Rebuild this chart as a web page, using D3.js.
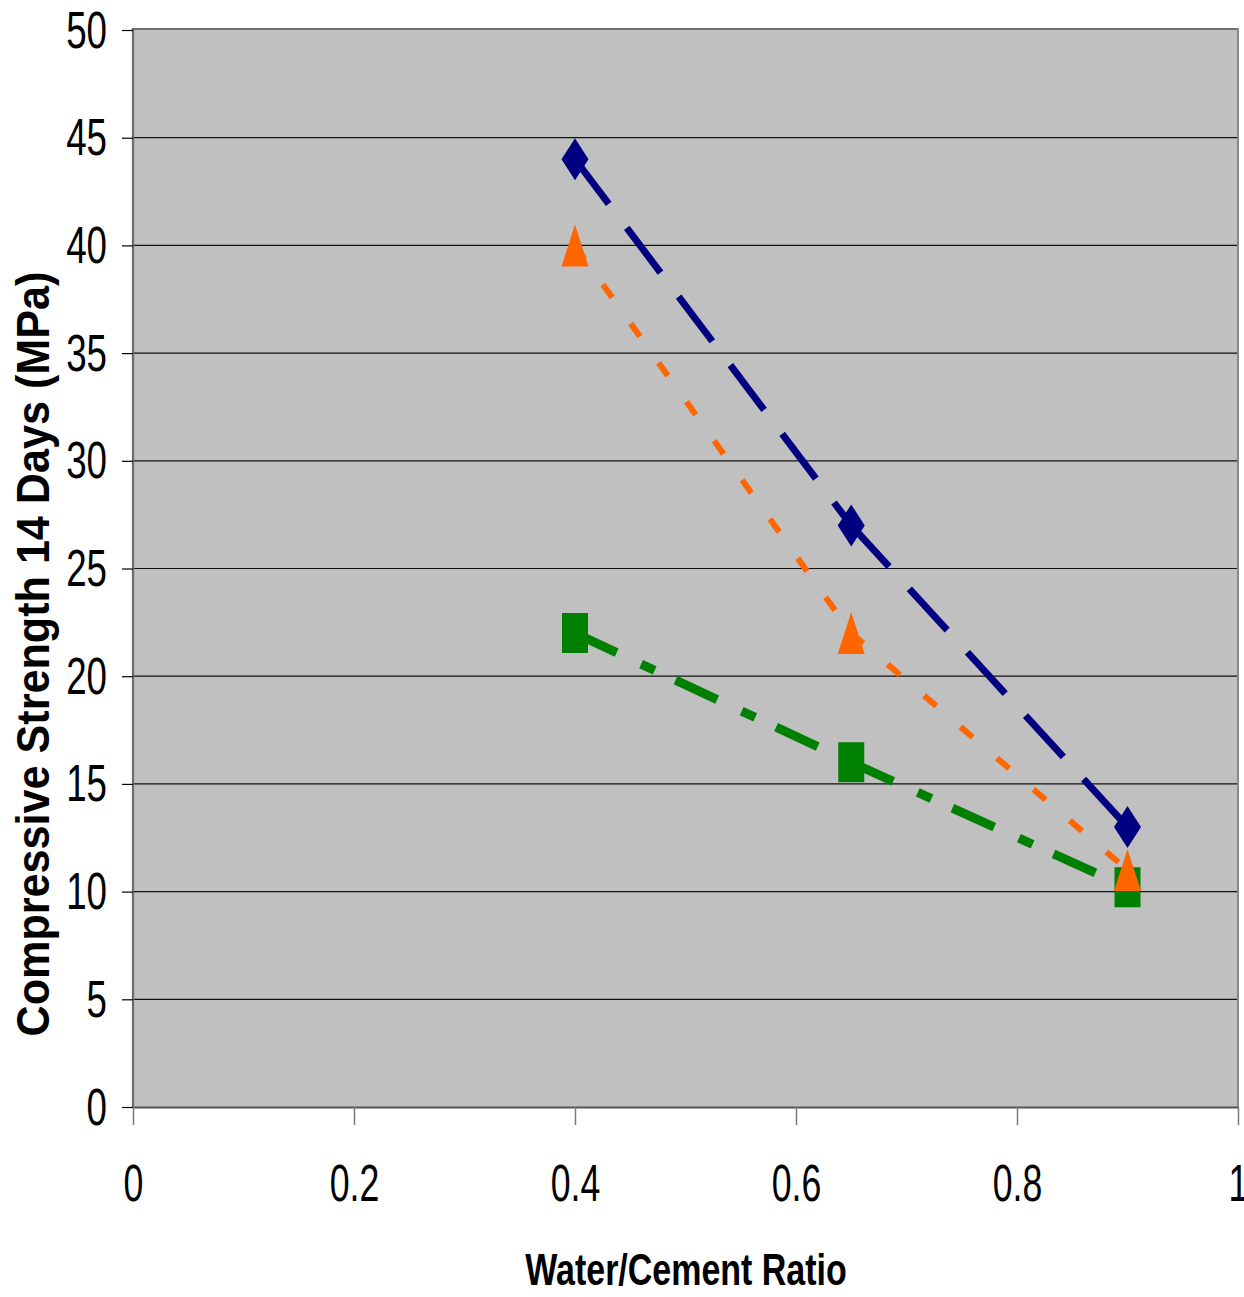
<!DOCTYPE html>
<html><head><meta charset="utf-8">
<script src="https://cdn.jsdelivr.net/npm/d3@7"></script>
<style>
html,body{margin:0;padding:0;background:#fff;}
svg{display:block;}
text{font-family:"Liberation Sans",Arial,sans-serif;}
</style></head>
<body>
<svg id="chart" width="1244" height="1297"></svg>
<script>
// ---- data ----
const wcRatio = [0.4, 0.65, 0.9];
const strengthBlue = [44, 27, 13];
const strengthGreen = [22, 16, 10.2];
const strengthOrange = [40, 22, 11];
const yTicks = [0, 5, 10, 15, 20, 25, 30, 35, 40, 45, 50];
const yTickLabels = ["0","5","10","15","20","25","30","35","40","45","50"];
const xTicks = [0, 0.2, 0.4, 0.6, 0.8, 1];
const xTickLabels = ["0","0.2","0.4","0.6","0.8","1"];
const xTitle = "Water/Cement Ratio";
const yTitle = "Compressive Strength 14 Days (MPa)";

// ---- layout ----
const L = 133, R = 1238, T = 30, B = 1107;
const svg = d3.select("#chart");
const x = d3.scaleLinear().domain([0, 1]).range([L, R]);
const y = d3.scaleLinear().domain([0, 50]).range([B, T]);

// plot background
svg.append("rect").attr("x", L).attr("y", T).attr("width", R - L).attr("height", B - T)
  .attr("fill", "#c0c0c0");

// gridlines
svg.append("g").selectAll("line").data(yTicks.filter(d => d > 0 && d < 50)).join("line")
  .attr("x1", L).attr("x2", R).attr("y1", d => y(d)).attr("y2", d => y(d))
  .attr("stroke", "#111").attr("stroke-width", 1.2);

// borders
svg.append("line").attr("x1", L).attr("x2", R).attr("y1", T - 1).attr("y2", T - 1)
  .attr("stroke", "#707070").attr("stroke-width", 2.2);
svg.append("line").attr("x1", R).attr("x2", R).attr("y1", T - 2).attr("y2", B)
  .attr("stroke", "#8a8a8a").attr("stroke-width", 2);
svg.append("line").attr("x1", L).attr("x2", L).attr("y1", T - 2).attr("y2", B)
  .attr("stroke", "#6a6a6a").attr("stroke-width", 2.2);

// y axis
const yAxis = svg.append("g").attr("transform", `translate(${L},0)`)
  .call(d3.axisLeft(y).tickValues(yTicks).tickFormat((d, i) => yTickLabels[i]).tickSize(11).tickSizeOuter(0));
yAxis.select(".domain").remove();
yAxis.selectAll("line").attr("stroke", "#000").attr("stroke-width", 1.2);
yAxis.selectAll("text")
  .attr("x", null).attr("y", null).attr("dy", null)
  .attr("text-anchor", "end")
  .attr("transform", "translate(-26,17) scale(0.72,1)")
  .attr("font-size", 51).attr("fill", "#000")
  .style("font-family", '"Liberation Sans",Arial,sans-serif');

// x axis
const xAxis = svg.append("g").attr("transform", `translate(0,${B})`)
  .call(d3.axisBottom(x).tickValues(xTicks).tickFormat((d, i) => xTickLabels[i]).tickSize(18).tickSizeOuter(0));
xAxis.select(".domain").attr("stroke", "#555").attr("stroke-width", 2.2);
xAxis.selectAll("line").attr("stroke", "#7a7a7a").attr("stroke-width", 1.5);
xAxis.selectAll("text")
  .attr("x", null).attr("y", null).attr("dy", null)
  .attr("text-anchor", "middle")
  .attr("transform", "translate(0,94) scale(0.7,1)")
  .attr("font-size", 51).attr("fill", "#000")
  .style("font-family", '"Liberation Sans",Arial,sans-serif');

// titles
svg.append("text").attr("transform", "translate(686,1285) scale(0.755,1)")
  .attr("text-anchor", "middle").attr("font-weight", "bold").attr("font-size", 45)
  .attr("fill", "#000").text(xTitle);
svg.append("text").attr("transform", "translate(49,654) rotate(-90) scale(0.918,1)")
  .attr("text-anchor", "middle").attr("font-weight", "bold").attr("font-size", 47)
  .attr("fill", "#000").text(yTitle);

// series
const series = [
  { name: "blue", values: strengthBlue, color: "#000080", width: 7, dash: "56,30", marker: "diamond" },
  { name: "green", values: strengthGreen, color: "#008000", width: 9, dash: "46,27,15,23", marker: "square" },
  { name: "orange", values: strengthOrange, color: "#ff6600", width: 6, dash: "16,32", marker: "triangle" }
];

function markerPath(type, cx, cy) {
  const p = d3.path();
  if (type === "diamond") {
    const w = 13.5, h = 21;
    p.moveTo(cx, cy - h); p.lineTo(cx + w, cy); p.lineTo(cx, cy + h); p.lineTo(cx - w, cy); p.closePath();
  } else if (type === "triangle") {
    const w = 13.5, h = 21;
    p.moveTo(cx, cy - h); p.lineTo(cx + w, cy + h); p.lineTo(cx - w, cy + h); p.closePath();
  } else {
    const w = 13, h = 20;
    p.rect(cx - w, cy - h, 2 * w, 2 * h);
  }
  return p.toString();
}

series.forEach(s => {
  const g = svg.append("g");
  const pts = wcRatio.map((r, i) => [x(r), y(s.values[i])]);
  const segs = d3.pairs(pts);
  g.selectAll("path.seg").data(segs).join("path")
    .attr("class", "seg")
    .attr("d", d => d3.line()(d))
    .attr("fill", "none").attr("stroke", s.color).attr("stroke-width", s.width)
    .attr("stroke-dasharray", s.dash).attr("stroke-linecap", "butt");
  g.selectAll("path.mk").data(pts).join("path")
    .attr("class", "mk")
    .attr("d", d => markerPath(s.marker, d[0], d[1]))
    .attr("fill", s.color);
});
</script>
</body></html>
